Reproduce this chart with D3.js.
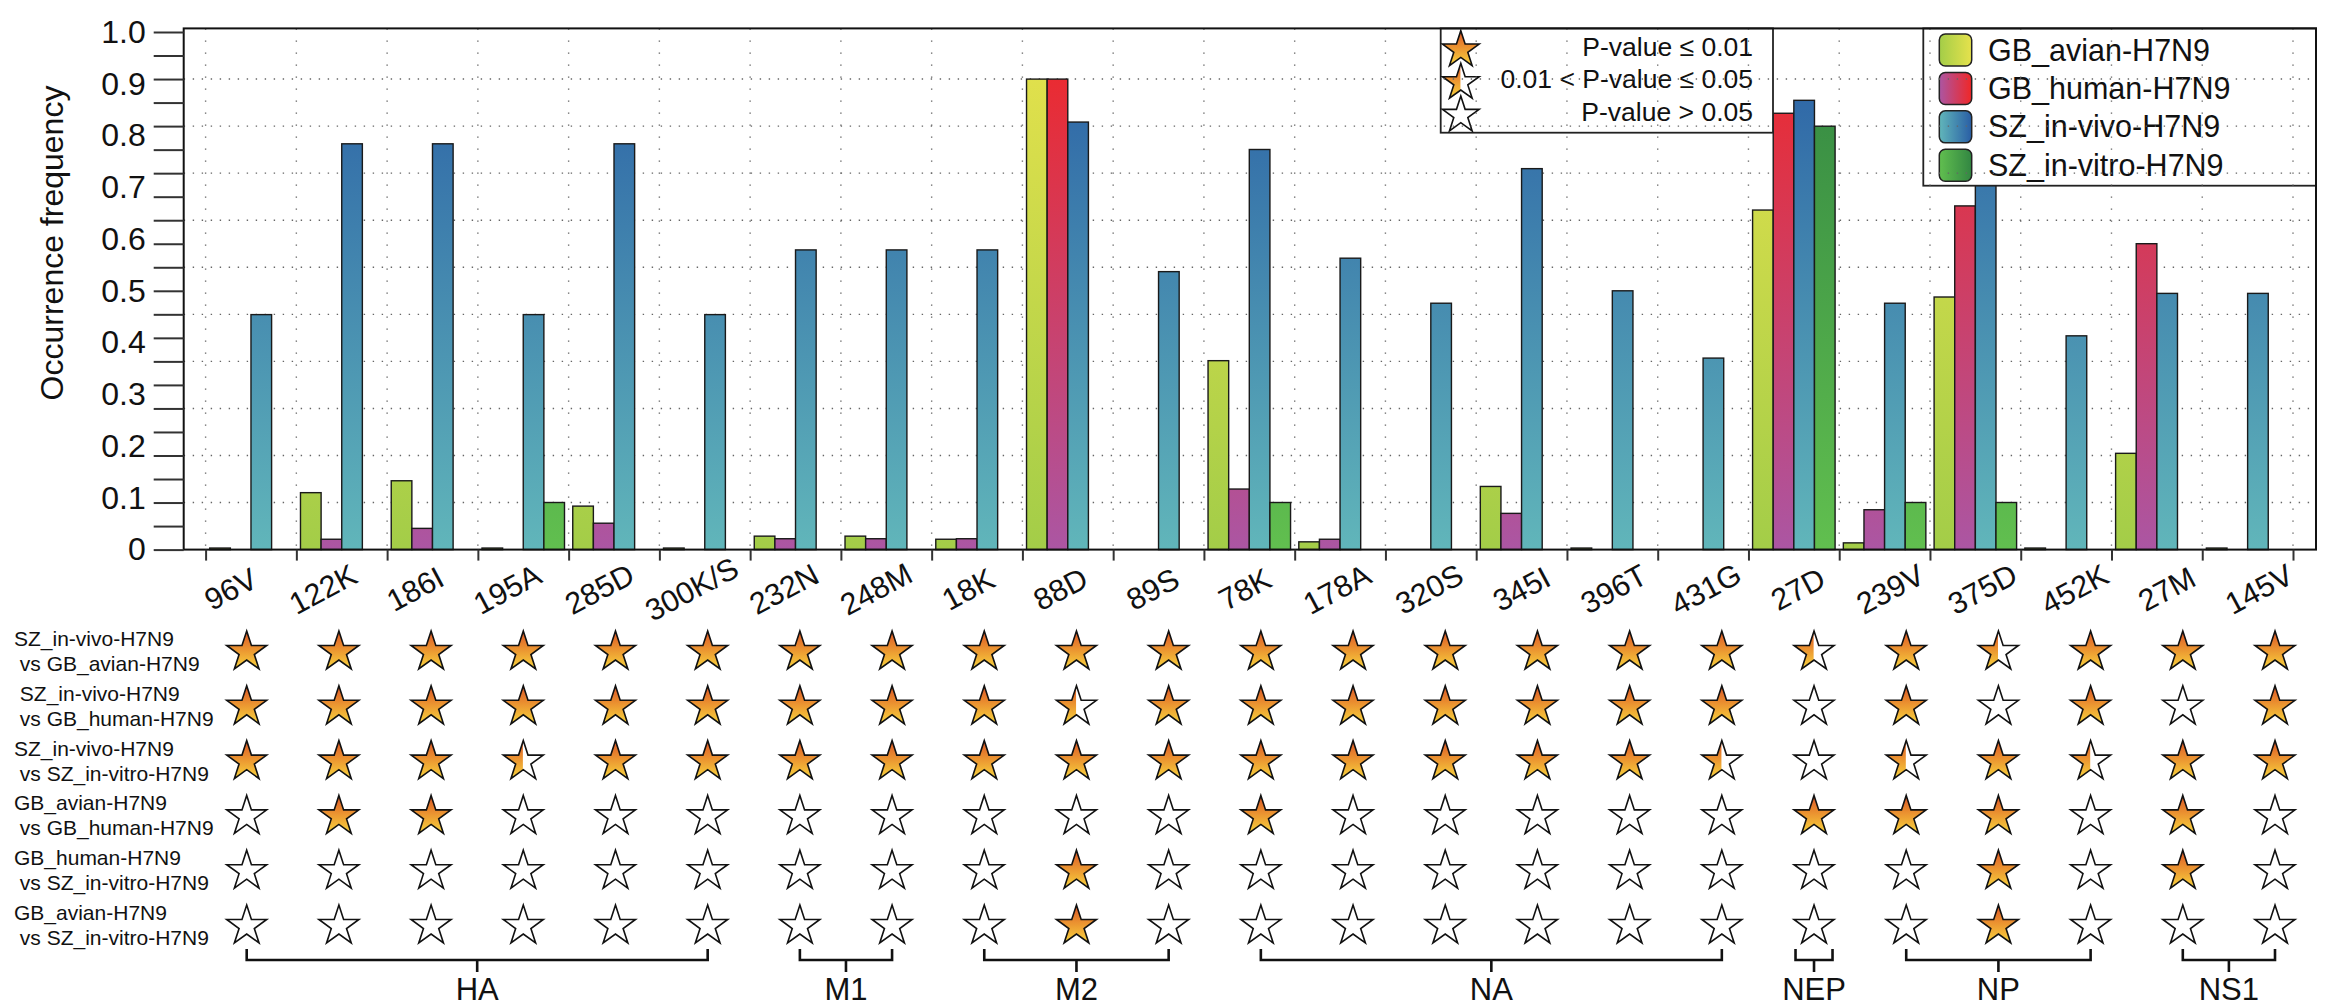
<!DOCTYPE html>
<html><head><meta charset="utf-8">
<script src="https://cdn.jsdelivr.net/npm/d3@7"></script>
<style>
body{margin:0;background:#fff}
svg{display:block}
text{font-family:"Liberation Sans",Arial,Helvetica,sans-serif;fill:#111}
</style>
</head><body>
<svg id="chart" width="2350" height="1006"></svg>
<script>
// ---------------- data ----------------
const categories = ["96V","122K","186I","195A","285D","300K/S","232N","248M","18K","88D","89S",
  "78K","178A","320S","345I","396T","431G","27D","239V","375D","452K","27M","145V"];
const seriesNames = ["GB_avian-H7N9","GB_human-H7N9","SZ_in-vivo-H7N9","SZ_in-vitro-H7N9"];
const gbAvian   = [0.003,0.110,0.133,0.003,0.084,0.003,0.026,0.026,0.020,0.909,0,
  0.365,0.015,0,0.122,0.003,0,0.656,0.013,0.488,0.003,0.186,0.003];
const gbHuman   = [0,0.020,0.041,0,0.051,0,0.021,0.021,0.021,0.909,0,
  0.117,0.020,0,0.070,0,0,0.843,0.077,0.664,0,0.591,0];
const szInVivo  = [0.454,0.784,0.784,0.454,0.784,0.454,0.579,0.579,0.579,0.826,0.537,
  0.773,0.563,0.476,0.736,0.500,0.370,0.868,0.476,0.740,0.413,0.495,0.495];
const szInVitro = [0,0,0,0.091,0,0,0,0,0,0,0,
  0.091,0,0,0,0,0,0.818,0.091,0.091,0,0,0];
const seriesValues = [gbAvian, gbHuman, szInVivo, szInVitro];

const yTickLabels = ["0","0.1","0.2","0.3","0.4","0.5","0.6","0.7","0.8","0.9","1.0"];
const yTitle = "Occurrence frequency";

const comparisons = [
  ["SZ_in-vivo-H7N9", " vs GB_avian-H7N9"],
  [" SZ_in-vivo-H7N9", " vs GB_human-H7N9"],
  ["SZ_in-vivo-H7N9", " vs SZ_in-vitro-H7N9"],
  ["GB_avian-H7N9", " vs GB_human-H7N9"],
  ["GB_human-H7N9", " vs SZ_in-vitro-H7N9"],
  ["GB_avian-H7N9", " vs SZ_in-vitro-H7N9"]
];
// 2 = P<=0.01 (full star), 1 = 0.01<P<=0.05 (half star), 0 = P>0.05 (empty)
const sigRow1 = [2,2,2,2,2,2, 2,2, 2,2,2, 2,2,2,2,2,2, 1, 2,1,2, 2,2];
const sigRow2 = [2,2,2,2,2,2, 2,2, 2,1,2, 2,2,2,2,2,2, 0, 2,0,2, 0,2];
const sigRow3 = [2,2,2,1,2,2, 2,2, 2,2,2, 2,2,2,2,2,1, 0, 1,2,1, 2,2];
const sigRow4 = [0,2,2,0,0,0, 0,0, 0,0,0, 2,0,0,0,0,0, 2, 2,2,0, 2,0];
const sigRow5 = [0,0,0,0,0,0, 0,0, 0,2,0, 0,0,0,0,0,0, 0, 0,2,0, 2,0];
const sigRow6 = [0,0,0,0,0,0, 0,0, 0,2,0, 0,0,0,0,0,0, 0, 0,2,0, 0,0];
const sigRows = [sigRow1,sigRow2,sigRow3,sigRow4,sigRow5,sigRow6];

const proteinNames = ["HA","M1","M2","NA","NEP","NP","NS1"];
const proteinFirst = ["96V","232N","18K","78K","27D","239V","27M"];
const proteinLast  = ["300K/S","248M","89S","431G","27D","452K","145V"];

const pLegendLabels = ["P-value \u2264 0.01","0.01 < P-value \u2264 0.05","P-value > 0.05"];
const pLegendLevels = [2,1,0];

// ---------------- styles ----------------
const seriesColors = [
  {bottom:"#a3cd48", top:"#e6e24c"},
  {bottom:"#ab56a3", top:"#f02727"},
  {bottom:"#61b6ba", top:"#295ea5"},
  {bottom:"#61bf4f", top:"#328642"}
];
const font = "'Liberation Sans',Arial,Helvetica,sans-serif";

// ---------------- layout ----------------
const P = {left:183.7, right:2316, top:28.4, bottom:549.6};
const svg = d3.select("#chart");
const defs = svg.append("defs");

const y  = d3.scaleLinear().domain([0,1]).range([549.6, 32]);
const xb = d3.scaleLinear().domain([0, categories.length]).range([205.6, 2293]);
const x0 = d3.scaleBand().domain(categories).range([205.6, 2293]).padding(0);
const x1 = d3.scaleBand().domain(d3.range(4)).range([0, x0.bandwidth()]).paddingInner(0).paddingOuter(0.2);
const xs = d3.scalePoint().domain(categories).range([246.7, 2275]);
const ry = d3.scalePoint().domain(d3.range(6)).range([652, 926]);

// gradients
seriesColors.forEach((c,i)=>{
  const g = defs.append("linearGradient").attr("id","bar"+i)
    .attr("gradientUnits","userSpaceOnUse").attr("x1",0).attr("x2",0)
    .attr("y1",y(0)).attr("y2",y(1));
  g.append("stop").attr("offset",0).attr("stop-color",c.bottom);
  g.append("stop").attr("offset",1).attr("stop-color",c.top);
  const s = defs.append("linearGradient").attr("id","sw"+i)
    .attr("x1",0).attr("x2",1).attr("y1",0).attr("y2",0);
  s.append("stop").attr("offset",0).attr("stop-color",c.bottom);
  s.append("stop").attr("offset",1).attr("stop-color",c.top);
});
const sg = defs.append("linearGradient").attr("id","starGrad").attr("x1",0).attr("x2",0).attr("y1",0).attr("y2",1);
sg.append("stop").attr("offset",0).attr("stop-color","#dc5526");
sg.append("stop").attr("offset",0.45).attr("stop-color","#ea9030");
sg.append("stop").attr("offset",1).attr("stop-color","#f8d43d");
defs.append("clipPath").attr("id","halfClip").attr("clipPathUnits","objectBoundingBox")
  .append("rect").attr("x",0).attr("y",0).attr("width",0.49).attr("height",1);

// legend boxes
const pBox = {x:1440.7, y:28.4, w:332.3, h:104.3};
const sBox = {x:1923.3, y:28.4, w:392.7, h:157.3};
const lc = defs.append("clipPath").attr("id","legClip");
[pBox,sBox].forEach(b=>lc.append("rect").attr("x",b.x).attr("y",b.y).attr("width",b.w).attr("height",b.h));

function drawGrid(g){
  g.selectAll("line.h").data(d3.range(1,11)).join("line").attr("class","h")
    .attr("x1",P.left).attr("x2",P.right).attr("y1",k=>y(k/11)).attr("y2",k=>y(k/11))
    .attr("stroke","#666").attr("stroke-width",1.4).attr("stroke-dasharray","1.4 7.6");
  g.selectAll("line.v").data(d3.range(0,categories.length+1)).join("line").attr("class","v")
    .attr("x1",i=>xb(i)).attr("x2",i=>xb(i)).attr("y1",P.top).attr("y2",P.bottom)
    .attr("stroke","#666").attr("stroke-width",1.4).attr("stroke-dasharray","1.4 10.6");
}
drawGrid(svg.append("g"));

// bars
const barData = [];
categories.forEach((c,i)=>seriesValues.forEach((vals,s)=>{ if(vals[i]>0) barData.push({c,s,v:vals[i]}); }));
svg.append("g").selectAll("rect").data(barData).join("rect")
  .attr("x",d=>x0(d.c)+x1(d.s)).attr("width",x1.bandwidth())
  .attr("y",d=>y(d.v)).attr("height",d=>y(0)-y(d.v))
  .attr("fill",d=>"url(#bar"+d.s+")").attr("stroke","#1a1a1a").attr("stroke-width",1.4);

// star helper
const starBig = d3.symbol(d3.symbolStar, 21*21/0.8908130915292852)();
const starLeg = d3.symbol(d3.symbolStar, 19.3*19.3/0.8908130915292852)();
function drawStar(g, cx, cy, level, path){
  const s = g.append("g").attr("transform",`translate(${cx},${cy})`);
  s.append("path").attr("d",path).attr("fill","#fff");
  if(level===2) s.append("path").attr("d",path).attr("fill","url(#starGrad)");
  if(level===1) s.append("path").attr("d",path).attr("fill","url(#starGrad)").attr("clip-path","url(#halfClip)");
  s.append("path").attr("d",path).attr("fill","none").attr("stroke","#111").attr("stroke-width",1.6).attr("stroke-linejoin","miter");
}

// P-value legend
const pl = svg.append("g");
pl.append("rect").attr("x",pBox.x).attr("y",pBox.y).attr("width",pBox.w).attr("height",pBox.h)
  .attr("fill","#fff").attr("stroke","#222").attr("stroke-width",1.8);
const pRow = d3.scalePoint().domain(d3.range(3)).range([50,115.3]);
pLegendLevels.forEach((lv,i)=>drawStar(pl,1460.8,pRow(i),lv,starLeg));
pl.selectAll("text").data(pLegendLabels).join("text")
  .attr("x",1753).attr("y",(d,i)=>pRow(i)+5.5).attr("text-anchor","end")
  .attr("font-size",26.5).text(d=>d);

// series legend
const sl = svg.append("g");
sl.append("rect").attr("x",sBox.x).attr("y",sBox.y).attr("width",sBox.w).attr("height",sBox.h)
  .attr("fill","#fff").attr("stroke","#222").attr("stroke-width",1.8);
const sRow = d3.scalePoint().domain(d3.range(4)).range([50,165.3]);
seriesNames.forEach((n,i)=>{
  sl.append("rect").attr("x",1939.3).attr("y",sRow(i)-16).attr("width",32.4).attr("height",32)
    .attr("rx",6).attr("fill","url(#sw"+i+")").attr("stroke","#222").attr("stroke-width",1.5);
  sl.append("text").attr("x",1988).attr("y",sRow(i)+10.5).attr("font-size",30.5).text(n);
});

// grid over legends
drawGrid(svg.append("g").attr("clip-path","url(#legClip)"));

// frame
svg.append("rect").attr("x",P.left).attr("y",P.top).attr("width",P.right-P.left).attr("height",P.bottom-P.top)
  .attr("fill","none").attr("stroke","#111").attr("stroke-width",2);

// y axis ticks
const yTicks = svg.append("g").attr("transform",`translate(${P.left},0)`)
  .call(d3.axisLeft(y).tickValues(d3.range(23).map(k=>k/22)).tickSize(30).tickFormat(""));
yTicks.select(".domain").remove();
yTicks.selectAll("line").attr("stroke","#333").attr("stroke-width",2);
// y axis labels
const yLab = svg.append("g").attr("transform",`translate(${P.left},0)`)
  .call(d3.axisLeft(y).tickValues(d3.range(11).map(k=>k/10)).tickSize(0).tickPadding(38)
    .tickFormat((d,i)=>yTickLabels[i]));
yLab.select(".domain").remove();
yLab.selectAll("text").attr("font-size",32).attr("font-family",font).attr("fill","#111");

// y title
svg.append("text").attr("transform","translate(63,243) rotate(-90)").attr("text-anchor","middle")
  .attr("font-size",32).text(yTitle);

// x axis boundary ticks
const xTicks = svg.append("g").attr("transform",`translate(0,${P.bottom})`)
  .call(d3.axisBottom(xb).tickValues(d3.range(categories.length+1)).tickSize(11).tickFormat(""));
xTicks.select(".domain").remove();
xTicks.selectAll("line").attr("stroke","#333").attr("stroke-width",2);

// x labels
svg.append("g").selectAll("text").data(categories).join("text")
  .attr("transform",d=>`translate(${xs(d)-16},589) rotate(-28)`)
  .attr("text-anchor","middle").attr("dy","0.35em").attr("font-size",30.5).text(d=>d);

// row labels
const rl = svg.append("g").attr("font-size",21);
comparisons.forEach((pair,r)=>{
  const t = rl.append("text").attr("xml:space","preserve");
  t.append("tspan").attr("x",14).attr("y",ry(r)-6).text(pair[0]);
  t.append("tspan").attr("x",14).attr("y",ry(r)+19).text(pair[1]);
});

// star matrix
const sm = svg.append("g");
sigRows.forEach((row,r)=>row.forEach((lv,i)=>drawStar(sm, xs(categories[i]), ry(r), lv, starBig)));

// protein brackets
const br = svg.append("g").attr("stroke","#111").attr("stroke-width",2.6).attr("fill","none");
const bl = svg.append("g");
proteinNames.forEach((n,k)=>{
  let a = xs(proteinFirst[k]), b = xs(proteinLast[k]);
  if(a===b){ a -= 18.5; b += 18.5; }
  const m = (a+b)/2;
  br.append("path").attr("d",`M${a},949 V960 H${b} V949 M${m},960 V972`);
  bl.append("text").attr("x",m).attr("y",1000).attr("text-anchor","middle").attr("font-size",31).text(n);
});
</script>
</body></html>
